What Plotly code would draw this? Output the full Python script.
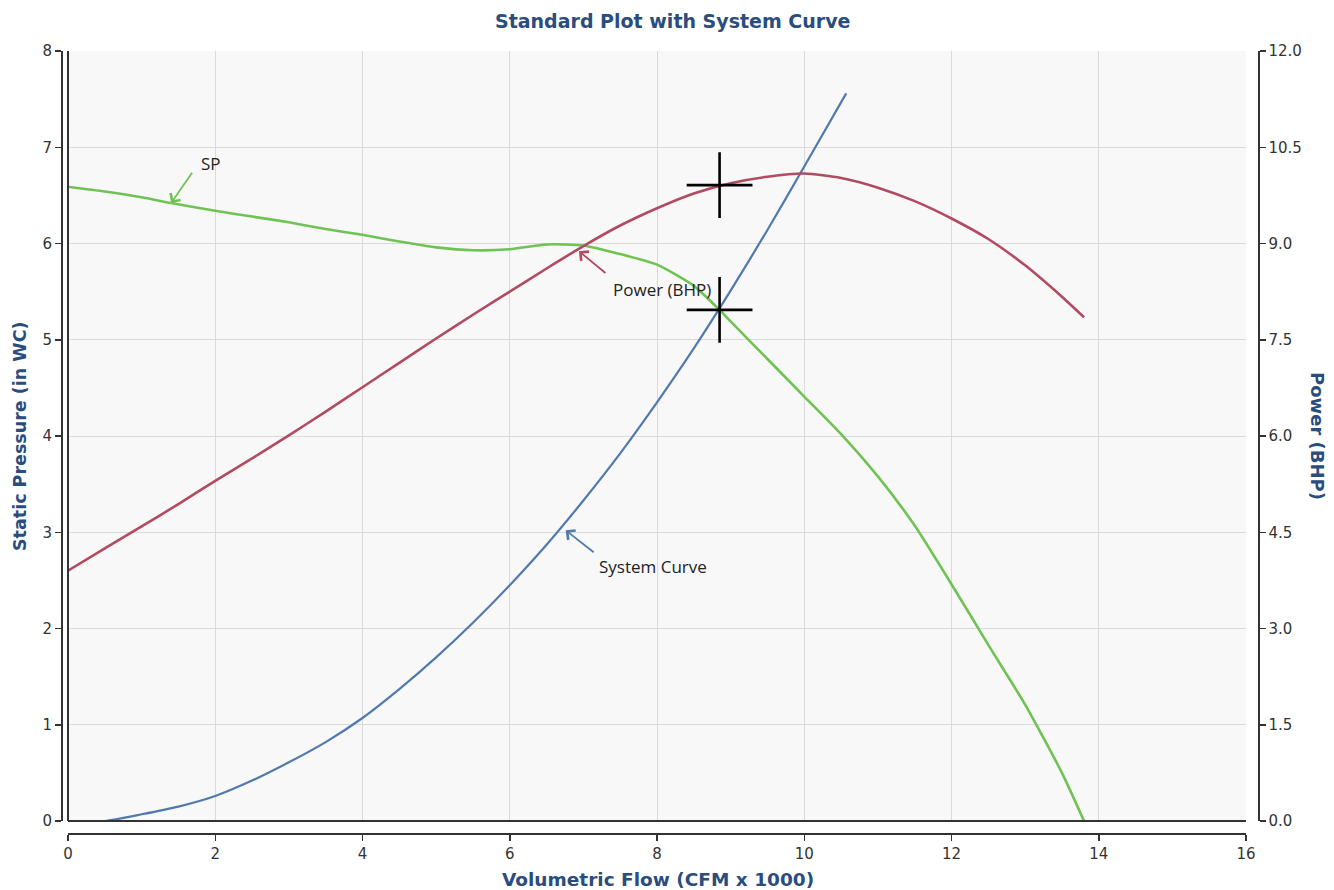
import plotly.graph_objects as go

# ---------------- data ----------------
flow_sp = [0, 0.5, 1, 1.4, 2, 2.5, 3, 3.5, 4, 4.5, 5, 5.5, 6, 6.5, 7, 7.5, 8,
           8.5, 8.85, 9, 9.5, 10, 10.5, 11, 11.5, 12, 12.5, 13, 13.5, 13.8]
sp = [6.59, 6.54, 6.48, 6.42, 6.34, 6.28, 6.22, 6.15, 6.09, 6.02, 5.96, 5.93, 5.94,
      5.99, 5.98, 5.89, 5.78, 5.56, 5.31, 5.19, 4.80, 4.41, 4.02, 3.58, 3.07, 2.46,
      1.83, 1.21, 0.50, 0.0]

flow_bhp = [0, 0.5, 1, 1.5, 2, 2.5, 3, 3.5, 4, 4.5, 5, 5.5, 6, 6.5, 7, 7.5, 8,
            8.5, 9, 9.5, 10, 10.5, 11, 11.5, 12, 12.5, 13, 13.5, 13.8]
bhp = [3.90, 4.25, 4.59, 4.94, 5.30, 5.65, 6.01, 6.38, 6.76, 7.14, 7.52, 7.89, 8.25,
       8.61, 8.96, 9.28, 9.55, 9.78, 9.94, 10.04, 10.09, 10.02, 9.87, 9.66, 9.39,
       9.07, 8.66, 8.17, 7.85]

flow_sys = [0, 0.5, 1, 1.5, 2, 2.5, 3, 3.5, 4, 4.5, 5, 5.5, 6, 6.5, 7, 7.5, 8,
            8.5, 9, 9.5, 10, 10.57]
sys_sp = [0, 0.0, 0.07, 0.15, 0.26, 0.42, 0.61, 0.82, 1.07, 1.37, 1.70, 2.06, 2.45,
          2.87, 3.33, 3.82, 4.35, 4.91, 5.51, 6.14, 6.80, 7.56]

op_flow = 8.85
op_sp = 5.31
op_bhp = 9.91

x_ticks = [0, 2, 4, 6, 8, 10, 12, 14, 16]
y_ticks = [0, 1, 2, 3, 4, 5, 6, 7, 8]
y2_ticks = [0, 1.5, 3, 4.5, 6, 7.5, 9, 10.5, 12]

# ---------------- style ----------------
GREEN = "#70c255"
RED = "#b24a61"
BLUE = "#5179ae"
TITLE_BLUE = "#2b4d7e"
TICK = "#333333"
FONT = "DejaVu Sans"

fig = go.Figure()
fig.add_trace(go.Scatter(x=flow_sp, y=sp, mode="lines", name="SP",
                         line=dict(color=GREEN, width=2.6, shape="spline", smoothing=0.6)))
fig.add_trace(go.Scatter(x=flow_bhp, y=bhp, mode="lines", name="Power (BHP)",
                         line=dict(color=RED, width=2.6, shape="spline", smoothing=0.6),
                         yaxis="y2"))
fig.add_trace(go.Scatter(x=flow_sys, y=sys_sp, mode="lines", name="System Curve",
                         line=dict(color=BLUE, width=2.2, shape="spline", smoothing=0.6)))
cross = dict(symbol="cross-thin", size=47, color="black",
             line=dict(color="black", width=2.6))
fig.add_trace(go.Scatter(x=[op_flow], y=[op_sp], mode="markers", marker=cross))
fig.add_trace(go.Scatter(x=[op_flow], y=[op_bhp], mode="markers", marker=cross,
                         yaxis="y2"))

W, H = 1334, 890
ML, MR, MT, MB = 61, 76, 51, 57
PW = W - ML - MR
PH = H - MT - MB


def px(xp):
    return (xp - ML) / PW


def py(yp):
    return (H - MB - yp) / PH


axis_common = dict(
    showline=True, linecolor=TICK, linewidth=1.5,
    ticks="outside", ticklen=6, tickcolor=TICK, tickwidth=1.5,
    tickfont=dict(family=FONT, size=15, color=TICK),
    zeroline=False, automargin=False, fixedrange=True,
)

fig.update_layout(
    width=W, height=H, autosize=False,
    margin=dict(l=ML, r=MR, t=MT, b=MB, pad=0),
    paper_bgcolor="white", plot_bgcolor="#f8f8f8",
    showlegend=False, hovermode=False,
    xaxis=dict(axis_common, domain=[px(68), px(1246)], range=[0, 16],
               tickvals=x_ticks, anchor="free", position=0,
               showgrid=True, gridcolor="#dadada", gridwidth=1),
    yaxis=dict(axis_common, domain=[py(821), 1], range=[0, 8],
               tickvals=y_ticks, anchor="free", position=0, side="left",
               showgrid=True, gridcolor="#dadada", gridwidth=1),
    yaxis2=dict(axis_common, overlaying="y", range=[0, 12],
                tickvals=y2_ticks, ticktext=[f"{v:.1f}" for v in y2_ticks],
                anchor="free", position=1, side="right", showgrid=False),
)

# plot border (left and bottom)
fig.add_shape(type="line", xref="x domain", yref="y domain", x0=0, x1=0, y0=0, y1=1,
              line=dict(color=TICK, width=2))
fig.add_shape(type="line", xref="x domain", yref="y domain", x0=0, x1=1, y0=0, y1=0,
              line=dict(color=TICK, width=2))

fig.add_annotation(text="<b>Standard Plot with System Curve</b>", xref="paper", yref="paper",
                   x=px(672), y=py(21), xanchor="center", yanchor="middle",
                   showarrow=False, font=dict(family=FONT, size=19, color=TITLE_BLUE))
fig.add_annotation(text="<b>Volumetric Flow (CFM x 1000)</b>", xref="paper", yref="paper",
                   x=px(658), y=py(879), xanchor="center", yanchor="middle",
                   showarrow=False, font=dict(family=FONT, size=18.5, color=TITLE_BLUE))
fig.add_annotation(text="<b>Static Pressure (in WC)</b>", xref="paper", yref="paper",
                   x=px(20), y=py(436), xanchor="center", yanchor="middle",
                   textangle=-90, showarrow=False,
                   font=dict(family=FONT, size=17.5, color=TITLE_BLUE))
fig.add_annotation(text="<b>Power (BHP)</b>", xref="paper", yref="paper",
                   x=px(1318), y=py(436), xanchor="center", yanchor="middle",
                   textangle=90, showarrow=False,
                   font=dict(family=FONT, size=18, color=TITLE_BLUE))

# curve labels with arrows
label_font = dict(family="Open Sans", size=17, color="#222222")
labels = [
    ("SP", 1.94, 6.83, (1.40, 6.42), (1.70, 6.75), GREEN),
    ("Power (BHP)", 8.07, 5.52, (6.94, 5.92), (7.32, 5.68), RED),
    ("System Curve", 7.95, 2.64, (6.76, 3.02), (7.16, 2.78), BLUE),
]
for text, tx, ty, head, tail, col in labels:
    fig.add_annotation(text=text, x=tx, y=ty, xref="x", yref="y",
                       showarrow=False, font=label_font)
    fig.add_annotation(text="", x=head[0], y=head[1], xref="x", yref="y",
                       ax=tail[0], ay=tail[1], axref="x", ayref="y",
                       showarrow=True, arrowhead=4, arrowsize=1.3,
                       arrowwidth=1.8, arrowcolor=col)

fig.write_html("out.html",
               config={"displayModeBar": False, "staticPlot": True},
               post_script="document.body.style.margin='0';document.body.style.overflow='hidden';")
